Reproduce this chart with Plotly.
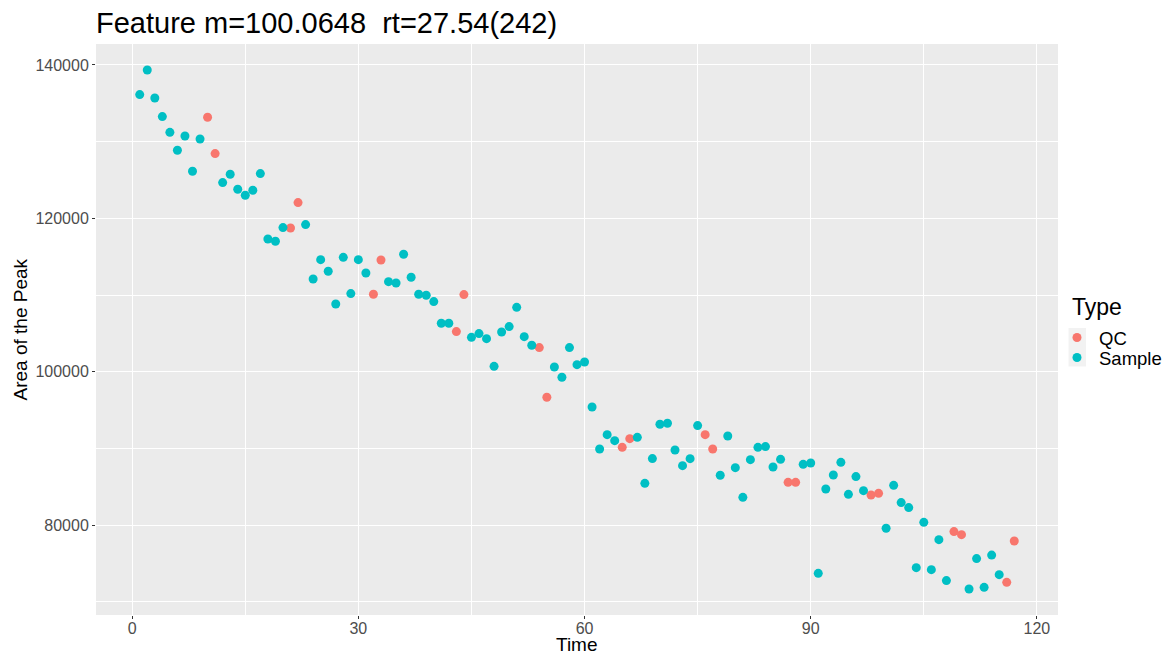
import plotly.graph_objects as go

# ---- data ----
time = list(range(1, 118))
area = [
    136140, 139350, 135700, 133270, 131220, 128880, 130740, 126140, 130350, 133180,
    128450, 124660, 125750, 123790, 123010, 123660, 125840, 117310, 117010, 118800,
    118740, 122060, 119190, 112100, 114620, 113100, 108830, 114920, 110190, 114620,
    112880, 110100, 114570, 111750, 111570, 115320, 112320, 110100, 109970, 109150,
    106320, 106320, 105240, 110060, 104490, 104980, 104320, 100710, 105180, 105890,
    108400, 104580, 103450, 103150, 96670, 100620, 99280, 103150, 100930, 101270,
    95400, 89930, 91800, 91020, 90150, 91280, 91450, 85450, 88680, 93150,
    93280, 89800, 87760, 88670, 92980, 91800, 89930, 86500, 91620, 87500,
    83630, 88540, 90150, 90240, 87580, 88580, 85580, 85580, 87930, 88100,
    73720, 84710, 86540, 88190, 84020, 86330, 84500, 83930, 84150, 79590,
    85190, 82940, 82290, 74460, 80370, 74200, 78110, 72770, 79160, 78760,
    71670, 75640, 71890, 76100, 73550, 72540, 77930,
]
qc_times = [10, 11, 21, 22, 32, 33, 43, 44, 54, 55, 65, 66, 76, 77, 87, 88, 98, 99,
            109, 110, 116, 117]
types = ["QC" if t in qc_times else "Sample" for t in time]
type_levels = ["QC", "Sample"]
type_colors = {"QC": "#F8766D", "Sample": "#00BFC4"}
x_ticks = [0, 30, 60, 90, 120]
y_ticks = [80000, 100000, 120000, 140000]

FONT = "Liberation Sans, Arial, sans-serif"
W, H = 1165, 656
ML, MR, MT, MB = 96, 107, 44, 41
PW, PH = W - ML - MR, H - MT - MB


def px(x):  # container pixel -> paper x
    return (x - ML) / PW


def py(y):  # container pixel -> paper y
    return (H - MB - y) / PH


fig = go.Figure()
for lvl in type_levels:
    xs = [t for t, ty in zip(time, types) if ty == lvl]
    ys = [a for a, ty in zip(area, types) if ty == lvl]
    fig.add_trace(go.Scatter(
        x=xs, y=ys, mode="markers", name=lvl, showlegend=False,
        marker=dict(color=type_colors[lvl], size=9, line=dict(width=0)),
    ))

xmin, xmax = min(time), max(time)
ymin, ymax = min(area), max(area)
xpad = (xmax - xmin) * 0.05
ypad = (ymax - ymin) * 0.05

axis_common = dict(
    showgrid=True, gridcolor="white", gridwidth=1.1,
    zeroline=False, showline=False,
    ticks="outside", ticklen=3, tickwidth=1, tickcolor="#333333",
    tickfont=dict(family=FONT, size=16, color="#4D4D4D"),
    automargin=False,
)

# legend (ggplot style): key background, key circles, labels
shapes = [dict(type="rect", xref="paper", yref="paper", layer="below",
               x0=px(1068.5), x1=px(1086), y0=py(366.5), y1=py(328),
               fillcolor="#F2F2F2", line=dict(width=0))]
annotations = [
    dict(text="Time", xref="paper", yref="paper", x=0.5, y=py(644.5),
         xanchor="center", yanchor="middle", showarrow=False, borderpad=0,
         font=dict(family=FONT, size=19, color="black")),
    dict(text="Area of the Peak", xref="paper", yref="paper", x=px(20), y=0.5,
         xanchor="center", yanchor="middle", textangle=-90, showarrow=False,
         font=dict(family=FONT, size=19, color="black")),
    dict(text="Type", xref="paper", yref="paper", x=px(1070), y=py(307),
         xanchor="left", yanchor="middle", showarrow=False,
         font=dict(family=FONT, size=23, color="black")),
]
for i, lvl in enumerate(type_levels):
    cy = 337.5 + 20 * i
    shapes.append(dict(type="circle", xref="paper", yref="paper",
                       xsizemode="pixel", ysizemode="pixel",
                       xanchor=px(1077), yanchor=py(cy),
                       x0=-4.5, x1=4.5, y0=-4.5, y1=4.5,
                       fillcolor=type_colors[lvl], line=dict(width=0)))
    annotations.append(dict(text=lvl, xref="paper", yref="paper", x=px(1097), y=py(cy + 1),
                            xanchor="left", yanchor="middle", showarrow=False,
                            font=dict(family=FONT, size=18.5, color="black")))

fig.update_layout(
    width=W, height=H,
    paper_bgcolor="white", plot_bgcolor="#EBEBEB",
    margin=dict(l=ML, r=MR, t=MT, b=MB),
    showlegend=False,
    title=dict(text="Feature m=100.0648  rt=27.54(242)", x=0, xref="paper", xanchor="left",
               y=1 - 23 / H, yref="container", yanchor="middle",
               font=dict(family=FONT, size=29, color="black")),
    xaxis=dict(range=[xmin - xpad, xmax + xpad], tickvals=x_ticks, ticklabelstandoff=-4,
               minor=dict(dtick=15, tick0=0, showgrid=True, gridcolor="white", gridwidth=0.5, ticks=""),
               **axis_common),
    yaxis=dict(range=[ymin - ypad, ymax + ypad], tickvals=y_ticks, tickformat="d",
               minor=dict(dtick=10000, tick0=0, showgrid=True, gridcolor="white", gridwidth=0.5, ticks=""),
               **axis_common),
    shapes=shapes,
    annotations=annotations,
)

fig.write_html("out.html")
